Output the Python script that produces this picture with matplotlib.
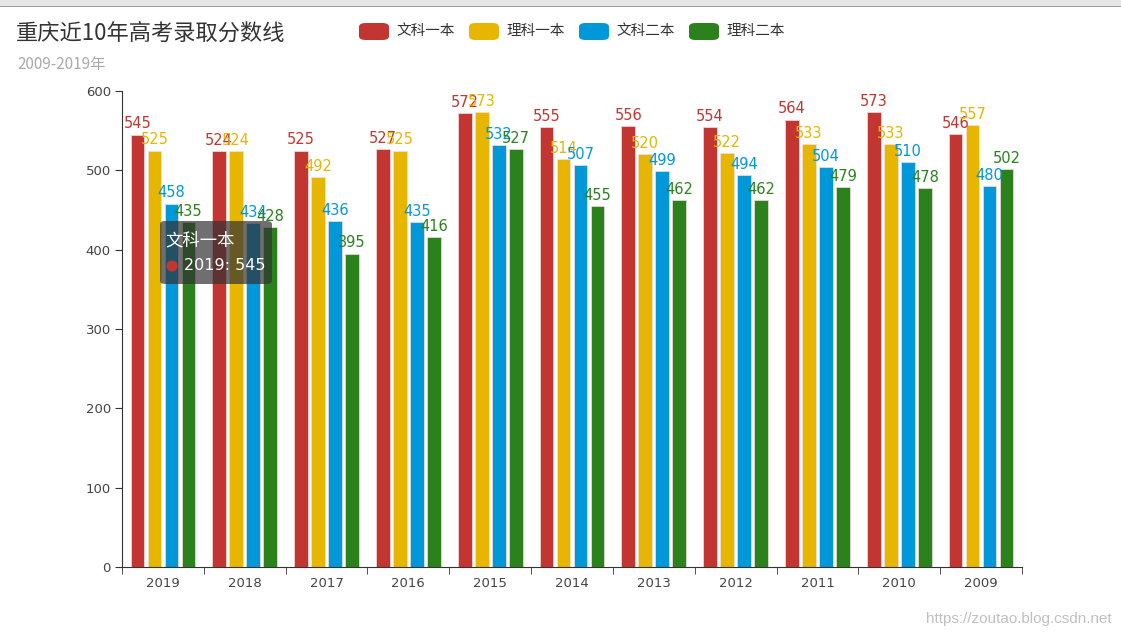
import numpy as np
import matplotlib
matplotlib.use("Agg")
import matplotlib.pyplot as plt
from matplotlib.patches import FancyBboxPatch, Rectangle, Ellipse

plt.rcParams['font.family'] = ['Noto Sans CJK SC', 'DejaVu Sans']
NUM_FONT = ['DejaVu Sans']

years = ['2019', '2018', '2017', '2016', '2015', '2014', '2013', '2012', '2011', '2010', '2009']
wenke_1 = [545, 524, 525, 527, 572, 555, 556, 554, 564, 573, 546]
like_1 = [525, 524, 492, 525, 573, 514, 520, 522, 533, 533, 557]
wenke_2 = [458, 434, 436, 435, 532, 507, 499, 494, 504, 510, 480]
like_2 = [435, 428, 395, 416, 527, 455, 462, 462, 479, 478, 502]

series_names = ['文科一本', '理科一本', '文科二本', '理科二本']
series_values = [wenke_1, like_1, wenke_2, like_2]
colors = ['#c23531', '#e6b600', '#0098d9', '#2b821d']

W, H = 1121, 636
fig = plt.figure(figsize=(W / 100, H / 100), dpi=100)
ax = fig.add_axes([122 / W, 1 - 567 / H, 900 / W, (567 - 91) / H])

x = np.arange(len(years))
bw = 0.168
step = 0.208
for i, (name, vals, c) in enumerate(zip(series_names, series_values, colors)):
    pos = x + (i - 1.5) * step
    ax.bar(pos, vals, width=bw, color=c, edgecolor='#f4dede', linewidth=0.5)
    for p, v in zip(pos, vals):
        ax.text(p, v + 4, str(v), color=c, ha='center', va='bottom', fontsize=10.5,
                family=NUM_FONT)

ax.set_xlim(-0.5, len(years) - 0.5)
ax.set_ylim(0, 600)
ax.set_yticks(range(0, 601, 100))
ax.set_xticks(x)
ax.set_xticklabels(years, family=NUM_FONT)
ax.set_yticklabels([str(v) for v in range(0, 601, 100)], family=NUM_FONT)
ax.set_xticks(np.arange(-0.5, len(years), 1), minor=True)
ax.tick_params(axis='x', which='major', length=0, pad=7, labelsize=9.5, labelcolor='#444444')
ax.tick_params(axis='x', which='minor', length=5, color='#333333', direction='out')
ax.tick_params(axis='y', length=5, color='#333333', labelsize=9.5, labelcolor='#444444', pad=3)
for s in ['top', 'right']:
    ax.spines[s].set_visible(False)
ax.spines['left'].set_color('#333333')
ax.spines['bottom'].set_color('#333333')

# title / subtitle
fig.text(16 / W, 1 - 33 / H, '重庆近10年高考录取分数线', fontsize=16, color='#333333', va='center')
fig.text(17 / W, 1 - 65 / H, '2009-2019年', fontsize=11, color='#aaaaaa', va='center')

# legend
leg_x = [359, 469, 579, 689]
for lx, name, c in zip(leg_x, series_names, colors):
    box = FancyBboxPatch((lx / W, 1 - 40 / H), 30 / W, 17 / H,
                         boxstyle='round,pad=0,rounding_size=0.006',
                         transform=fig.transFigure, facecolor=c, edgecolor='none')
    fig.patches.append(box)
    fig.text((lx + 37) / W, 1 - 31 / H, name, fontsize=10.5, color='#333333', va='center')

# top strip
fig.patches.append(Rectangle((0, 1 - 6 / H), 1, 6 / H, transform=fig.transFigure,
                             facecolor='#e6e6e6', edgecolor='none'))
fig.patches.append(Rectangle((0, 1 - 7 / H), 1, 1.2 / H, transform=fig.transFigure,
                             facecolor='#a0a0a0', edgecolor='none'))

# tooltip
tip = FancyBboxPatch((160 / W, 1 - 284 / H), 112 / W, 63 / H,
                     boxstyle='round,pad=0,rounding_size=0.005',
                     transform=fig.transFigure, facecolor='#323232', alpha=0.7,
                     edgecolor='none', zorder=10)
fig.patches.append(tip)
fig.text(165 / W, 1 - 240 / H, series_names[0], fontsize=12.5, color='white', va='center', zorder=11)
fig.patches.append(Ellipse((172 / W, 1 - 266 / H), 11 / W, 11 / H,
                           transform=fig.transFigure, facecolor=colors[0], zorder=11))
fig.text(184 / W, 1 - 266 / H, '%s: %d' % (years[0], wenke_1[0]), fontsize=11.5,
         color='white', va='center', zorder=11, family=NUM_FONT)

# watermark
fig.text(1112 / W, 1 - 619 / H, 'https://zoutao.blog.csdn.net', fontsize=11,
         color='#c0c0c0', ha='right', va='center', family=['Liberation Sans'])

fig.savefig('out.png', dpi=100)
